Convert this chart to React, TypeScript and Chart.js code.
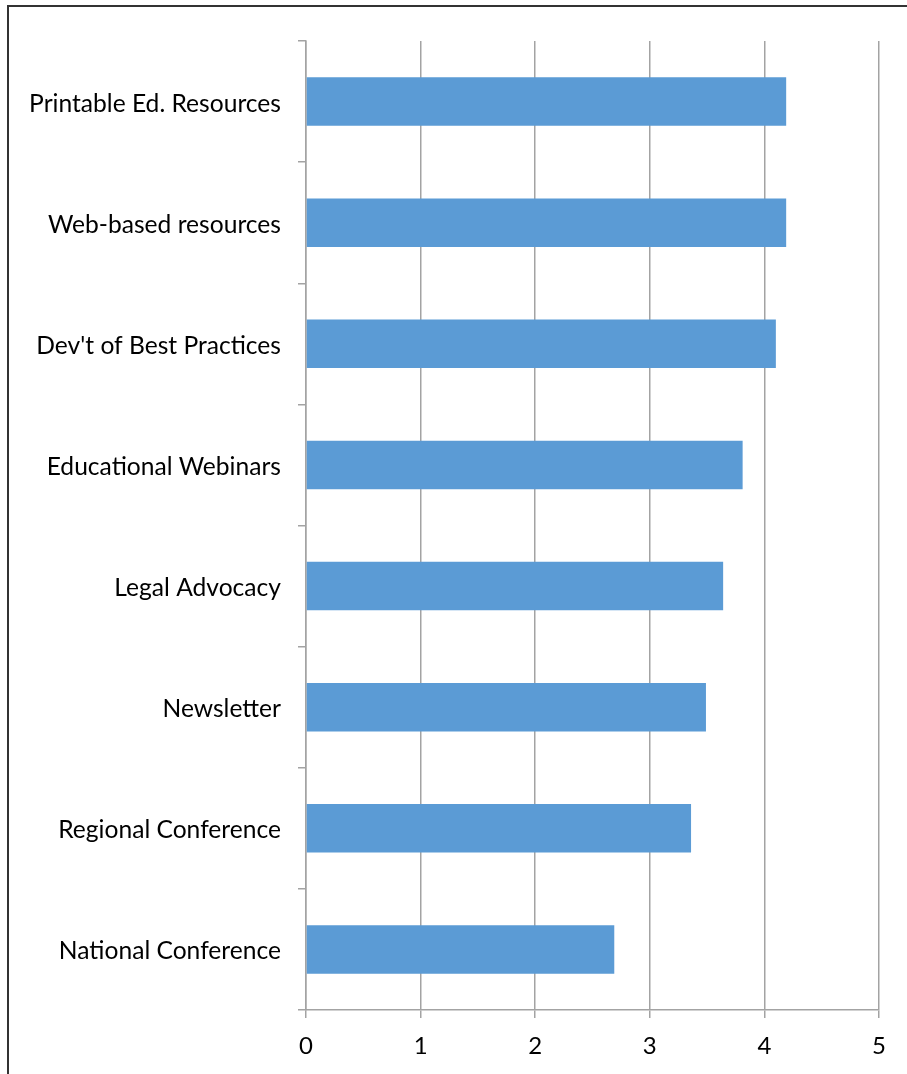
import React, { useEffect, useRef } from "react";
import { Chart, registerables } from "chart.js";

Chart.register(...registerables);

const categories = [
  "Printable Ed. Resources",
  "Web-based resources",
  "Dev't of Best Practices",
  "Educational Webinars",
  "Legal Advocacy",
  "Newsletter",
  "Regional Conference",
  "National Conference",
];
const scores = [4.19, 4.19, 4.1, 3.81, 3.64, 3.49, 3.36, 2.69];
const xTicks = [0, 1, 2, 3, 4, 5];

const FONT = "Lato, 'Noto Sans', sans-serif";
const GRID = "#a3a3a3";

export default function App() {
  const ref = useRef<HTMLCanvasElement | null>(null);
  useEffect(() => {
    if (!ref.current) return;
    const chart = new Chart(ref.current, {
      type: "bar",
      data: {
        labels: categories,
        datasets: [
          {
            data: scores,
            backgroundColor: "#5B9BD5",
            borderWidth: 0,
            barPercentage: 0.4,
            categoryPercentage: 1,
          },
        ],
      },
      options: {
        indexAxis: "y",
        responsive: false,
        animation: false,
        layout: { padding: { left: 0, top: 41, right: 28, bottom: 0 } },
        plugins: { legend: { display: false }, tooltip: { enabled: false } },
        scales: {
          x: {
            min: 0,
            max: 5,
            afterBuildTicks: (s: any) => {
              s.ticks = xTicks.map((v) => ({ value: v }));
            },
            afterFit: (s: any) => {
              s.height = 64;
            },
            grid: { color: GRID, lineWidth: 1.5, tickLength: 8 },
            border: { color: GRID, width: 1.5 },
            ticks: {
              color: "#000",
              font: { family: FONT, size: 24 },
              padding: 14,
            },
          },
          y: {
            afterFit: (s: any) => {
              s.width = 306;
            },
            grid: {
              drawOnChartArea: false,
              color: GRID,
              lineWidth: 1.5,
              tickLength: 8,
              offset: true,
            },
            border: { color: GRID, width: 1.5 },
            ticks: {
              color: "#000",
              font: { family: FONT, size: 24.6 },
              padding: 17,
              labelOffset: 2,
            },
          },
        },
      },
    });
    return () => chart.destroy();
  }, []);

  return (
    <div
      style={{
        position: "absolute",
        left: 0,
        top: 0,
        width: 907,
        height: 1074,
        overflow: "hidden",
        background: "#fff",
      }}
    >
      <div
        style={{
          position: "absolute",
          left: 7,
          top: 5,
          width: 940,
          height: 1100,
          border: "2px solid #333333",
          boxSizing: "border-box",
        }}
      />
      <canvas
        ref={ref}
        width={907}
        height={1074}
        style={{ position: "absolute", left: 0, top: 0, width: 907, height: 1074 }}
      />
    </div>
  );
}
